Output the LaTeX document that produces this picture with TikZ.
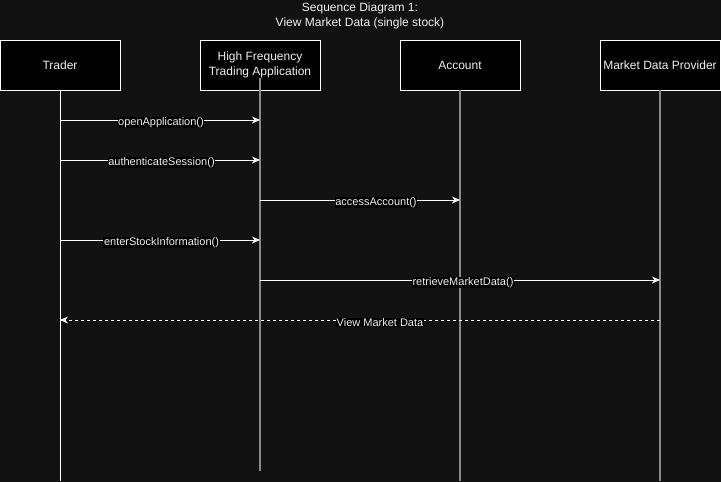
\documentclass[tikz,border=0pt]{standalone}
\usepackage{fontspec}
\setmainfont{Liberation Sans}
\usetikzlibrary{arrows.meta}
\definecolor{bgc}{HTML}{121212}
\definecolor{txt}{HTML}{F0F0F0}
\definecolor{lifeg}{HTML}{8A8A8A}
\tikzset{
  actor/.style={draw=white, line width=1pt, fill=black, minimum width=120pt, minimum height=50pt, inner sep=0pt, text=txt, font=\fontsize{12}{15}\selectfont, align=center},
  msg/.style={draw=white, line width=1pt, -{Stealth[length=8pt,width=7pt,inset=2.5pt]}},
  ret/.style={msg, dash pattern=on 3pt off 3pt},
  lbl/.style={fill=black, text=txt, inner sep=0.6pt, font=\fontsize{11}{13}\selectfont},
  life/.style={draw=lifeg, line width=2pt},
  title/.style={text=txt, font=\fontsize{12}{15}\selectfont, align=center}
}
\begin{document}
\begin{tikzpicture}[x=1pt,y=-1pt]
\fill[bgc] (0,0) rectangle (721,482);
\useasboundingbox (0,0) rectangle (721,482);
\node[title] (ttl) at (360,15.5) {Sequence Diagram 1:\\View Market Data (single stock)};
% lifelines
\coordinate (tT) at (60,90);
\coordinate (tB) at (60,481);
\coordinate (hT) at (260,78);
\coordinate (hB) at (260,471);
\coordinate (aT) at (460,90);
\coordinate (aB) at (460,481);
\coordinate (mT) at (660,90);
\coordinate (mB) at (660,481);
\node[actor] (trader) at (60,65) {Trader};
\node[actor] (hft) at (260,65) {High Frequency\\Trading Application};
\node[actor] (acc) at (460,65) {Account};
\node[actor] (mdp) at (660,65) {Market Data Provider};
\draw[draw=white, line width=1pt] (tT) -- (tB);
\draw[life] (hT) -- (hB);
\draw[life] (aT) -- (aB);
\draw[life] (mT) -- (mB);
% message points
\coordinate (m1a) at (60,120); \coordinate (m1b) at (260,120);
\coordinate (m2a) at (60,160); \coordinate (m2b) at (260,160);
\coordinate (m3a) at (260,200); \coordinate (m3b) at (460,200);
\coordinate (m4a) at (60,240); \coordinate (m4b) at (260,240);
\coordinate (m5a) at (260,280); \coordinate (m5b) at (660,280);
\coordinate (m6a) at (660,320); \coordinate (m6b) at (60,320);
\draw[msg] (m1a) -- (m1b);
\draw[msg] (m2a) -- (m2b);
\draw[msg] (m3a) -- (m3b);
\draw[msg] (m4a) -- (m4b);
\draw[msg] (m5a) -- (m5b);
\draw[ret] (m6a) -- (m6b);
\node[lbl] (l1) at (161,122.5) {openApplication()};
\node[lbl] (l2) at (161.5,162.5) {authenticateSession()};
\node[lbl] (l3) at (376,202.5) {accessAccount()};
\node[lbl] (l4) at (161.5,242.5) {enterStockInformation()};
\node[lbl] (l5) at (463,282.5) {retrieveMarketData()};
\node[lbl] (l6) at (380,322.5) {View Market Data};
\end{tikzpicture}
\end{document}
